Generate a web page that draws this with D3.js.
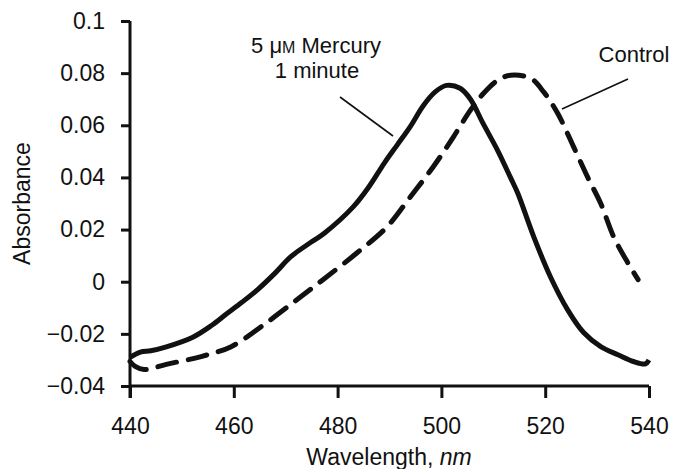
<!DOCTYPE html>
<html lang="en">
<head>
  <meta charset="UTF-8" />
  <title>Absorbance spectra</title>
  <script src="https://cdnjs.cloudflare.com/ajax/libs/d3/7.8.4/d3.min.js"></script>
  <style>
    body {
      margin: 0;
      padding: 0;
      background: #fff;
      overflow: hidden;
    }
    svg text {
      font-family: "Liberation Sans", Arial, Helvetica, sans-serif;
      fill: #111;
    }
    .curve {
      fill: none;
      stroke: #111;
      stroke-width: 5px;
      stroke-linejoin: round;
    }
  </style>
</head>
<body>
  <svg></svg>
  <script>
    // tick values
    const xTicks = [440, 460, 480, 500, 520, 540];
    const yTicks = [-0.04, -0.02, 0, 0.02, 0.04, 0.06, 0.08, 0.1];

    // 5 uM mercury, 1 minute (solid)
    const mercuryWl = [440, 442, 444, 447, 452, 455.7, 458.5, 461.5, 464.6, 468, 471, 475, 477.5,
      483, 486, 489, 491.5, 494, 496.5, 498.8, 501, 503.6, 505.6, 508, 510.8, 513.3, 514.7,
      517.8, 521, 524.3, 527.4, 530.7, 534, 537, 539.3, 540];
    const mercuryAbs = [-0.029, -0.027, -0.0265, -0.025, -0.0214, -0.0168, -0.0125, -0.008, -0.003,
      0.0034, 0.0096, 0.0153, 0.0187, 0.0287, 0.0363, 0.0455, 0.0525, 0.0595, 0.0675, 0.0728, 0.0753,
      0.0742, 0.070, 0.0608, 0.0505, 0.040, 0.034, 0.0172, 0.0019, -0.0107, -0.0195, -0.0249,
      -0.028, -0.0306, -0.0315, -0.030];

    // control (dashed)
    const controlWl = [440, 441, 442.7, 447, 453.7, 459.5, 465.3, 471.7, 477, 483.7, 489.5, 494,
      498.4, 502.3, 505.6, 508, 510.8, 513.3, 517.2, 519.7, 522.4, 525.5, 528.2, 530.7, 533.2,
      535.9, 537.9];
    const controlAbs = [-0.0306, -0.0325, -0.0337, -0.0317, -0.0287, -0.0249, -0.0172, -0.0076,
      0.0005, 0.011, 0.021, 0.0325, 0.044, 0.0555, 0.0658, 0.072, 0.0772, 0.0792, 0.078, 0.0728,
      0.0646, 0.0516, 0.040, 0.030, 0.0172, 0.0073, 0.0008];

    const width = 676;
    const height = 469;
    const margin = { left: 130, right: 27, top: 21, bottom: 83 };

    const svg = d3.select("svg")
      .attr("width", width)
      .attr("height", height);

    const x = d3.scaleLinear().domain([440, 540]).range([margin.left, width - margin.right]);
    const y = d3.scaleLinear().domain([-0.04, 0.1]).range([height - margin.bottom, margin.top]);

    const line = d3.line()
      .x(d => x(d[0]))
      .y(d => y(d[1]))
      .curve(d3.curveCatmullRom.alpha(0.5));

    const mercury = mercuryWl.map((w, i) => [w, mercuryAbs[i]]);
    const control = controlWl.map((w, i) => [w, controlAbs[i]]);

    // axes
    const xAxis = svg.append("g")
      .attr("transform", `translate(0,${y(-0.04)})`)
      .call(d3.axisBottom(x).tickValues(xTicks).tickSize(12).tickPadding(20)
        .tickFormat(d3.format("d")));

    const yAxis = svg.append("g")
      .attr("transform", `translate(${x(440)},0)`)
      .call(d3.axisLeft(y).tickValues(yTicks).tickSize(9).tickPadding(16)
        .tickFormat(d => d === 0 ? "0" : (d < 0 ? "\u2212" + Math.abs(d) : d)));

    [xAxis, yAxis].forEach(g => {
      g.select(".domain").attr("stroke", "#111").attr("stroke-width", 3);
      g.selectAll(".tick line").attr("stroke", "#111").attr("stroke-width", 3);
      g.selectAll(".tick text").style("font-size", "23px").attr("fill", "#111");
    });
    // y axis runs down through the 440 tick
    yAxis.select(".domain").attr("d", `M0,${y(0.1)}V${y(-0.04) + 12}`);
    xAxis.select(".domain").attr("d", `M${x(440)},0H${x(540)}`);

    // curves
    svg.append("path")
      .datum(control)
      .attr("class", "curve")
      .attr("stroke-dasharray", "19,12")
      .attr("stroke-linecap", "round")
      .attr("d", line);

    svg.append("path")
      .datum(mercury)
      .attr("class", "curve")
      .attr("d", line);

    // axis titles
    svg.append("text")
      .attr("transform", `translate(30,${y(0.03)}) rotate(-90)`)
      .attr("text-anchor", "middle")
      .style("font-size", "23px")
      .text("Absorbance");

    const xt = svg.append("text")
      .attr("x", 389)
      .attr("y", 465)
      .attr("text-anchor", "middle")
      .style("font-size", "23px");
    xt.append("tspan").text("Wavelength, ");
    xt.append("tspan").style("font-style", "italic").text("nm");

    // annotations
    const lab = svg.append("text")
      .attr("x", 316)
      .attr("y", 53)
      .attr("text-anchor", "middle")
      .style("font-size", "22px");
    lab.append("tspan").text("5 \u03bc");
    lab.append("tspan").style("font-size", "16px").text("M");
    lab.append("tspan").text(" Mercury");
    svg.append("text")
      .attr("x", 317)
      .attr("y", 78)
      .attr("text-anchor", "middle")
      .style("font-size", "22px")
      .text("1 minute");

    svg.append("text")
      .attr("x", 634)
      .attr("y", 62)
      .attr("text-anchor", "middle")
      .style("font-size", "22px")
      .text("Control");

    svg.append("line")
      .attr("x1", 340).attr("y1", 97)
      .attr("x2", 393).attr("y2", 136)
      .attr("stroke", "#111").attr("stroke-width", 1.6);
    svg.append("line")
      .attr("x1", 628).attr("y1", 79)
      .attr("x2", 562).attr("y2", 109)
      .attr("stroke", "#111").attr("stroke-width", 1.6);
  </script>
</body>
</html>
